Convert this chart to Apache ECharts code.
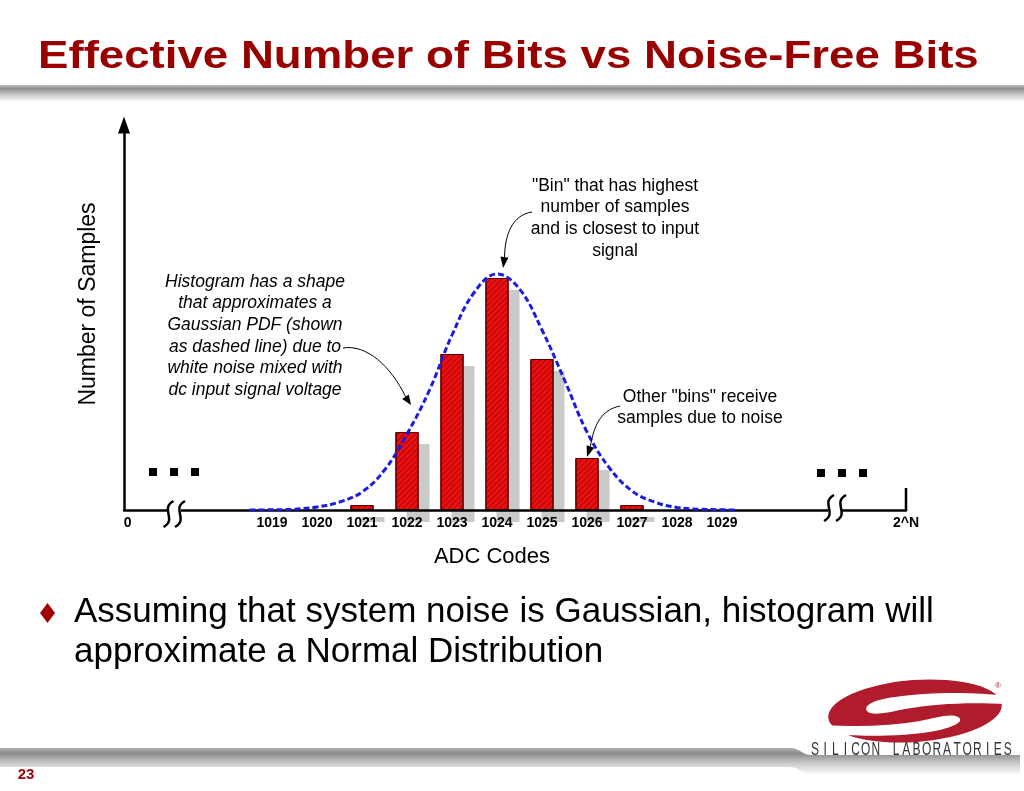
<!DOCTYPE html>
<html><head><meta charset="utf-8">
<script src="https://cdn.jsdelivr.net/npm/echarts@6/dist/echarts.min.js"></script>
<style>html,body{margin:0;padding:0;background:#fff}#c{width:1024px;height:791px}</style>
</head><body><div id="c"></div>
<script>
// ---- data ----
const adcCodes = [1019, 1020, 1021, 1022, 1023, 1024, 1025, 1026, 1027, 1028, 1029];
const binCounts = [0, 0, 5, 78, 156, 232, 151, 52, 5, 0, 0];
const pdfX = [1018.5, 1019, 1019.5, 1020, 1020.5, 1021, 1021.5, 1022, 1022.5, 1023, 1023.5, 1024, 1024.5, 1025, 1025.5, 1026, 1026.5, 1027, 1027.5, 1028, 1028.5, 1029, 1029.3];
const pdfY = [0, 0.2, 0.8, 3, 8, 18, 40, 76, 120, 175, 218, 236, 221, 180, 130, 78, 42, 19, 8, 2.5, 0.8, 0.2, 0];
const axisStartValue = 1015.71, axisEndValue = 1033.09;
const axisStartLabel = '0', axisEndLabel = '2^N';
const tickValues = [axisStartValue + 0.08].concat(adcCodes, [axisEndValue]);

const FONT = '"Liberation Sans", Arial, sans-serif';
const chart = echarts.init(document.getElementById('c'), null, {renderer: 'canvas'});

// decorative shapes (slide furniture, not data)
echarts.graphic.registerShape('bottomBand', echarts.graphic.extendPath('M0,748 L790,748 C800,748 802,755 812,755 L1020,755 L1020,775 L812,775 C802,775 800,767 790,767 L0,767 Z', {}));
echarts.graphic.registerShape('logoCounterA', echarts.graphic.extendPath('M1006,696 C975,692 930,692 895,697 C872,700 862,706 868,712 C874,716 890,712 905,709 C935,704 965,702 1006,704 Z', {}));
echarts.graphic.registerShape('logoCounterB', echarts.graphic.extendPath('M824,733 C855,737 900,737 935,731 C955,727 965,721 958,717 C950,713 935,718 920,721 C890,726 860,727 824,725 Z', {}));

const barData = adcCodes.map((c, i) => [c, binCounts[i]]).filter(d => d[1] > 0);
const pdfData = pdfX.map((x, i) => [x, pdfY[i]]);

function txt(x, y, text, font, extra) {
  return {type: 'text', x: x, y: y, z: 50,
    style: Object.assign({text: text, font: font, fill: '#000', align: 'center', verticalAlign: 'middle'}, extra || {})};
}
function arrowHead(pts) {
  return {type: 'polygon', z: 50, shape: {points: pts}, style: {fill: '#000'}};
}
function curve(x1, y1, cx1, cy1, cx2, cy2, x2, y2) {
  return {type: 'bezierCurve', z: 50, shape: {x1: x1, y1: y1, cpx1: cx1, cpy1: cy1, cpx2: cx2, cpy2: cy2, x2: x2, y2: y2},
    style: {stroke: '#000', lineWidth: 1, fill: null}};
}
function squiggle(cx, cy) {
  return {type: 'bezierCurve', z: 60, shape: {x1: cx - 5, y1: cy + 13, cpx1: cx + 9, cpy1: cy + 5, cpx2: cx - 9, cpy2: cy - 5, x2: cx + 5, y2: cy - 13},
    style: {stroke: '#000', lineWidth: 2.5, fill: null}};
}
function dot(x, y) { return {type: 'rect', z: 50, shape: {x: x, y: y, width: 8, height: 8}, style: {fill: '#000'}}; }

const annFont = '17.5px ' + FONT;
const annItalic = 'italic 17.5px ' + FONT;
const graphics = [];
// title + bands
graphics.push({type: 'text', x: 38, y: 57, scaleX: 1.17, z: 50,
  style: {text: 'Effective Number of Bits vs Noise-Free Bits', font: 'bold 39px ' + FONT, fill: '#990000', align: 'left', verticalAlign: 'middle'}});
graphics.push({type: 'rect', z: 1, shape: {x: 0, y: 85, width: 1024, height: 17},
  style: {fill: new echarts.graphic.LinearGradient(0, 0, 0, 1, [{offset: 0, color: '#c4c4c4'}, {offset: 0.2, color: '#8c8c8c'}, {offset: 0.5, color: '#bdbdbd'}, {offset: 1, color: '#ffffff'}])}});
graphics.push({type: 'bottomBand', z: 1, shape: {},
  style: {fill: new echarts.graphic.LinearGradient(0, 0, 0, 1, [{offset: 0, color: '#b0b0b0'}, {offset: 0.2, color: '#8c8c8c'}, {offset: 0.55, color: '#c8c8c8'}, {offset: 1, color: '#ffffff'}])}});
graphics.push(txt(26, 775, '23', 'bold 15px ' + FONT, {fill: '#990000'}));
// bullet
graphics.push({type: 'polygon', z: 50, shape: {points: [[47.5, 603], [55, 613], [47.5, 623], [40, 613]]}, style: {fill: '#a00000'}});
graphics.push(txt(74, 612, 'Assuming that system noise is Gaussian, histogram will', '35px ' + FONT, {align: 'left'}));
graphics.push(txt(74, 652, 'approximate a Normal Distribution', '35px ' + FONT, {align: 'left'}));
// axis names
graphics.push(txt(492, 557, 'ADC Codes', '22px ' + FONT));
graphics.push(Object.assign(txt(89, 304, 'Number of Samples', '23px ' + FONT), {rotation: Math.PI / 2}));
// annotations
['Histogram has a shape', 'that approximates a', 'Gaussian PDF (shown', 'as dashed line) due to', 'white noise mixed with', 'dc input signal voltage']
  .forEach((t, i) => graphics.push(txt(255, 282 + i * 21.6, t, annItalic)));
['"Bin" that has highest', 'number of samples', 'and is closest to input', 'signal']
  .forEach((t, i) => graphics.push(txt(615, 186 + i * 21.6, t, annFont)));
['Other "bins" receive', 'samples due to noise']
  .forEach((t, i) => graphics.push(txt(700, 397 + i * 21.6, t, annFont)));
graphics.push(curve(343, 348, 366, 344, 391, 366, 405.5, 396.7));
graphics.push(arrowHead([[411, 405], [402.2, 398.9], [408.8, 394.5]]));
graphics.push(curve(532, 212, 512, 215, 505, 235, 504.5, 257));
graphics.push(arrowHead([[503, 268], [500.5, 256.5], [508.5, 257.7]]));
graphics.push(curve(620, 406, 601, 410, 594, 425, 590.4, 446.5));
graphics.push(arrowHead([[587, 457], [586.6, 445.3], [594.2, 447.7]]));
// dots and axis breaks
[149, 170, 191].forEach(x => graphics.push(dot(x, 468)));
[817, 838, 859].forEach(x => graphics.push(dot(x, 469)));
graphics.push({type: 'rect', z: 55, shape: {x: 167, y: 505, width: 14, height: 10}, style: {fill: '#fff'}});
graphics.push({type: 'rect', z: 55, shape: {x: 828, y: 505, width: 14, height: 10}, style: {fill: '#fff'}});
graphics.push(squiggle(168.5, 514));
graphics.push(squiggle(180, 514));
graphics.push(squiggle(829, 508));
graphics.push(squiggle(841, 508));
graphics.push({type: 'line', z: 50, shape: {x1: 906, y1: 488, x2: 906, y2: 511}, style: {stroke: '#000', lineWidth: 2.5}});
// logo
graphics.push({type: 'circle', x: 915, y: 711, scaleY: 31 / 87, rotation: 0.075, z: 50, shape: {cx: 0, cy: 0, r: 87}, style: {fill: '#b01c2e'}});
graphics.push({type: 'logoCounterA', z: 51, shape: {}, style: {fill: '#fff'}});
graphics.push({type: 'logoCounterB', z: 51, shape: {}, style: {fill: '#fff'}});
graphics.push(txt(998, 686, '®', '8px ' + FONT, {fill: '#b01c2e'}));
'SILICON LABORATORIES'.split('').forEach((ch, i) => {
  if (ch !== ' ') graphics.push({type: 'text', x: 815 + i * 10.15, y: 750, scaleY: 1.5, z: 52,
    style: {text: ch, font: '12px ' + FONT, fill: '#333', align: 'center', verticalAlign: 'middle'}});
});

chart.setOption({
  animation: false,
  backgroundColor: '#fff',
  grid: {left: 124, right: 118, top: 125, bottom: 281},
  xAxis: {
    type: 'value', min: axisStartValue, max: axisEndValue, z: 5,
    axisLine: {show: true, lineStyle: {color: '#000', width: 2.5}},
    axisTick: {show: false}, splitLine: {show: false},
    axisLabel: {
      customValues: tickValues, color: '#000', fontWeight: 'bold', fontSize: 14, fontFamily: FONT, margin: 6,
      formatter: v => Math.abs(v - tickValues[0]) < 0.01 ? axisStartLabel : (Math.abs(v - axisEndValue) < 0.01 ? axisEndLabel : String(Math.round(v)))
    }
  },
  yAxis: {
    type: 'value', min: 0, max: 385, z: 5,
    axisLine: {show: true, symbol: ['none', 'triangle'], symbolSize: [12, 17], lineStyle: {color: '#000', width: 2.5}},
    axisTick: {show: false}, axisLabel: {show: false}, splitLine: {show: false}
  },
  series: [
    {
      name: 'shadow', type: 'bar', data: barData, barWidth: 23, z: 1,
      itemStyle: {color: '#ee1010', shadowColor: '#cacaca', shadowBlur: 0, shadowOffsetX: 11, shadowOffsetY: 12}
    },
    {
      name: 'bins', type: 'bar', data: barData, barWidth: 23, barGap: '-100%', z: 3,
      itemStyle: {
        color: '#ee1010', borderColor: '#5a0000', borderWidth: 1,
        decal: {symbol: 'rect', symbolSize: 1, color: 'rgba(100,0,0,0.55)', dashArrayX: [1, 0], dashArrayY: [1, 3], rotation: -Math.PI / 4}
      }
    },
    {
      type: 'line', data: pdfData, smooth: 0.4, showSymbol: false, symbol: 'none', z: 6,
      lineStyle: {color: '#1c1ce0', width: 3, type: [6, 3]}
    }
  ],
  graphic: graphics
});
</script></body></html>
